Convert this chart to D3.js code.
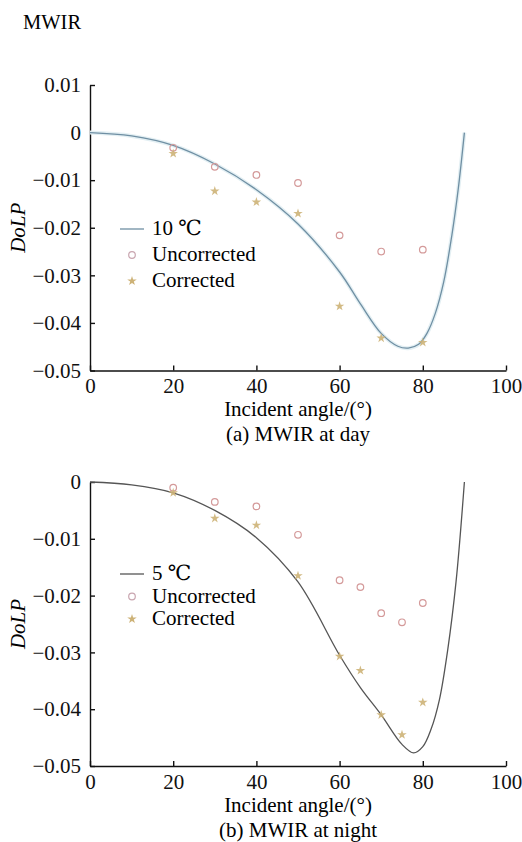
<!DOCTYPE html>
<html>
<head>
<meta charset="utf-8">
<script src="https://cdn.jsdelivr.net/npm/d3@7"></script>
<style>
  body { margin: 0; background: #fff; }
</style>
</head>
<body>
<div id="canvas"></div>
<script>
"use strict";

// measured angles (deg) for the markers
let anglesDay = [20, 30, 40, 50, 60, 70, 80];
let uncorrectedDay = [-0.0032, -0.0072, -0.0089, -0.0106, -0.0216, -0.0250, -0.0246];
let correctedDay = [-0.0044, -0.0123, -0.0146, -0.0170, -0.0365, -0.0432, -0.0441];

let anglesNight = [20, 30, 40, 50, 60, 65, 70, 75, 80];
let uncorrectedNight = [-0.0010, -0.0035, -0.0043, -0.0093, -0.0173, -0.0185, -0.0231, -0.0247, -0.0213];
let correctedNight = [-0.0019, -0.0064, -0.0076, -0.0165, -0.0307, -0.0332, -0.0410, -0.0445, -0.0388];

// theory curves
let curveDayAngle = [0, 10, 20, 30, 40, 50, 60, 65, 70, 74, 76.5, 79, 81, 83, 85, 87, 88.5, 90];
let curveDayValue = [0, -0.0007, -0.0027, -0.0066, -0.0120, -0.0192, -0.0293, -0.0360, -0.0422, -0.0449, -0.0453, -0.0445, -0.0422, -0.0380, -0.0315, -0.0215, -0.0120, 0];

let curveNightAngle = [0, 10, 20, 30, 40, 50, 60, 65, 70, 75, 77.8, 80, 82, 84, 86, 88, 90];
let curveNightValue = [0, -0.0005, -0.0019, -0.0050, -0.0098, -0.0176, -0.0305, -0.0362, -0.0410, -0.0462, -0.0477, -0.0466, -0.0435, -0.0383, -0.0295, -0.0175, 0];

let xTicks = [0, 20, 40, 60, 80, 100];
let yTicksDay = [0.01, 0, -0.01, -0.02, -0.03, -0.04, -0.05];
let yTicksNight = [0, -0.01, -0.02, -0.03, -0.04, -0.05];

const FONT = "Liberation Serif, Times New Roman, DejaVu Serif, serif";

let drawing = d3.select("#canvas")
    .append("svg")
    .attr("width", 522)
    .attr("height", 842)
    .attr("font-family", FONT);

drawing.append("rect").attr("width", 522).attr("height", 842).attr("fill", "#fff");

drawing.append("text")
    .attr("x", 23).attr("y", 29)
    .attr("font-size", 20.5)
    .attr("font-family", FONT)
    .text("MWIR");

let fmt = v => v === 0 ? "0" : d3.format("~g")(+v.toFixed(2));

function drawPanel(opt) {
    let g = drawing.append("g").attr("font-family", FONT);
    let x = d3.scaleLinear().domain([0, 100]).range([90, 506]);
    let y = d3.scaleLinear().domain(opt.yDomain).range([opt.bottom, opt.top]);

    let xAxis = g.append("g")
        .attr("transform", `translate(0,${opt.bottom})`)
        .call(d3.axisBottom(x).tickValues(xTicks).tickSizeInner(-5).tickSizeOuter(0).tickPadding(8));
    let yAxis = g.append("g")
        .attr("transform", "translate(90,0)")
        .call(d3.axisLeft(y).tickValues(opt.yTicks).tickFormat(fmt).tickSizeInner(-5).tickSizeOuter(0).tickPadding(9));

    [xAxis, yAxis].forEach(a => {
        a.attr("font-family", FONT).attr("font-size", 21);
        a.selectAll("path, line").attr("stroke", "#111").attr("stroke-width", 1.4);
        a.selectAll("text").attr("fill", "#111");
    });

    // theory curve
    let pts = opt.curveAngle.map((a, i) => [a, opt.curveValue[i]]);
    let line = d3.line().x(d => x(d[0])).y(d => y(d[1])).curve(d3.curveCatmullRom.alpha(0.5));
    if (opt.halo) {
        g.append("path").datum(pts).attr("d", line).attr("fill", "none")
            .attr("stroke", opt.halo).attr("stroke-width", 4);
    }
    g.append("path").datum(pts).attr("d", line).attr("fill", "none")
        .attr("stroke", opt.lineColor).attr("stroke-width", 1.3);

    // markers
    g.selectAll(".unc").data(opt.angles).enter().append("circle")
        .attr("cx", d => x(d))
        .attr("cy", (d, i) => y(opt.uncorrected[i]))
        .attr("r", 3.3)
        .attr("fill", "none")
        .attr("stroke", "#d49a9a")
        .attr("stroke-width", 1.2);

    let star = d3.symbol().type(d3.symbolStar).size(28);
    g.selectAll(".cor").data(opt.angles).enter().append("path")
        .attr("d", star)
        .attr("transform", (d, i) => `translate(${x(d)},${y(opt.corrected[i])})`)
        .attr("fill", "#cdb277")
        .attr("opacity", 0.9);

    // legend
    let L = opt.legend;
    g.append("line")
        .attr("x1", 120).attr("x2", 144)
        .attr("y1", L.y0 - 6).attr("y2", L.y0 - 6)
        .attr("stroke", opt.lineColor).attr("stroke-width", 1.3);
    g.append("circle").attr("cx", 132).attr("cy", L.y0 + L.step - 6).attr("r", 3.3)
        .attr("fill", "none").attr("stroke", "#c9a6b0").attr("stroke-width", 1.2);
    g.append("path").attr("d", star)
        .attr("transform", `translate(132,${L.y0 + 2 * L.step - 6})`)
        .attr("fill", "#cdb277");
    [opt.label, "Uncorrected", "Corrected"].forEach((t, i) => {
        g.append("text").attr("x", 152).attr("y", L.y0 + i * L.step)
            .attr("font-size", 21).text(t);
    });

    // axis titles
    g.append("text")
        .attr("transform", `translate(25,${(opt.top + opt.bottom) / 2}) rotate(-90)`)
        .attr("text-anchor", "middle")
        .attr("font-size", 21)
        .attr("font-style", "italic")
        .text("DoLP");
    g.append("text")
        .attr("x", 298).attr("y", opt.bottom + 45.5)
        .attr("text-anchor", "middle")
        .attr("font-size", 21)
        .text("Incident angle/(°)");
    g.append("text")
        .attr("x", 298).attr("y", opt.bottom + 70.5)
        .attr("text-anchor", "middle")
        .attr("font-size", 21)
        .text(opt.caption);
}

drawPanel({
    top: 85, bottom: 370.5, yDomain: [-0.05, 0.01], yTicks: yTicksDay,
    angles: anglesDay, uncorrected: uncorrectedDay, corrected: correctedDay,
    curveAngle: curveDayAngle, curveValue: curveDayValue,
    lineColor: "#6f8fa3", halo: "#e3eff3",
    label: "10 \u2103", caption: "(a) MWIR at day",
    legend: { y0: 235, step: 26 }
});

drawPanel({
    top: 482, bottom: 766, yDomain: [-0.05, 0], yTicks: yTicksNight,
    angles: anglesNight, uncorrected: uncorrectedNight, corrected: correctedNight,
    curveAngle: curveNightAngle, curveValue: curveNightValue,
    lineColor: "#555", halo: null,
    label: "5 \u2103", caption: "(b) MWIR at night",
    legend: { y0: 580, step: 22.5 }
});
</script>
</body>
</html>
